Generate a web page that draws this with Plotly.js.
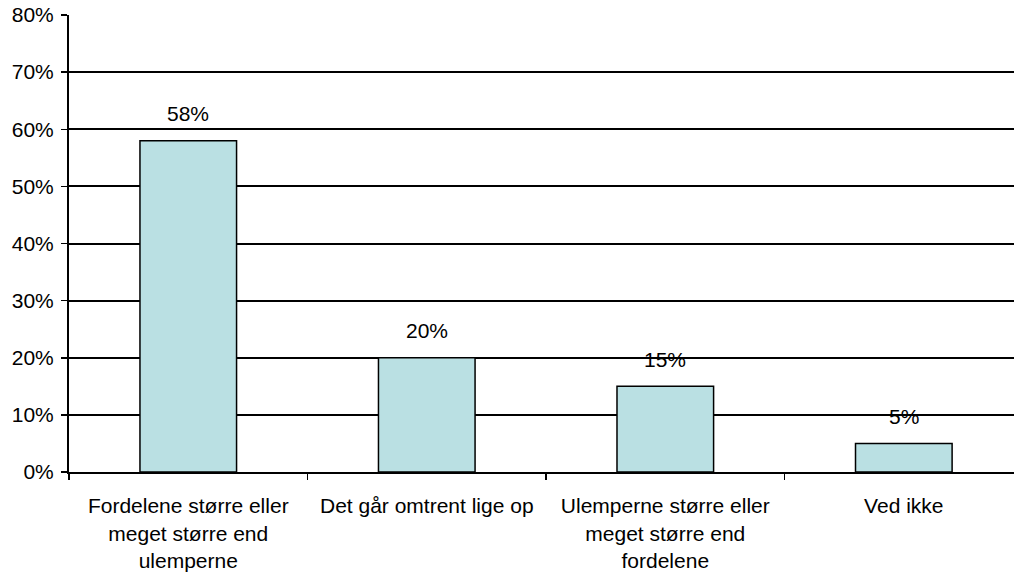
<!DOCTYPE html>
<html>
<head>
<meta charset="utf-8">
<script src="https://cdn.plot.ly/plotly-3.0.1.min.js"></script>
<style>
html,body{margin:0;padding:0;background:#fff;}
#chart{width:1014px;height:573px;}
</style>
</head>
<body>
<div id="chart"></div>
<script>
const categories = [
  "Fordelene større eller<br>meget større end<br>ulemperne",
  "Det går omtrent lige op",
  "Ulemperne større eller<br>meget større end<br>fordelene",
  "Ved ikke"
];
const values = [58, 20, 15, 5];
const valueLabels = ["58%", "20%", "15%", "5%"];
const yTickValues = [0, 10, 20, 30, 40, 50, 60, 70, 80];
const yTickLabels = ["0%", "10%", "20%", "30%", "40%", "50%", "60%", "70%", "80%"];

const FONT = "Liberation Sans, Arial, sans-serif";

const trace = {
  type: "bar",
  x: categories,
  y: values,
  width: 0.405,
  marker: {color: "#bae0e3", line: {color: "#000000", width: 1.5}},
  hoverinfo: "skip"
};

const annotations = categories.map((c, i) => ({
  x: c, y: values[i], xref: "x", yref: "y",
  text: valueLabels[i], showarrow: false,
  yanchor: "middle", yshift: 27,
  font: {family: FONT, size: 21, color: "#000"}
}));

const layout = {
  width: 1014, height: 573,
  margin: {l: 69, r: 0, t: 15, b: 101},
  paper_bgcolor: "#ffffff", plot_bgcolor: "#ffffff",
  font: {family: FONT, size: 21, color: "#000"},
  showlegend: false,
  bargap: 0,
  xaxis: {
    type: "category",
    range: [-0.5, 3.462],
    tickson: "boundaries",
    ticks: "outside", ticklen: 6, tickwidth: 1.5, tickcolor: "#000",
    showline: true, linecolor: "#000", linewidth: 2,
    showgrid: false, zeroline: false,
    ticklabelstandoff: 14,
    tickfont: {family: FONT, size: 21}
  },
  yaxis: {
    range: [0, 80],
    tickvals: yTickValues, ticktext: yTickLabels,
    ticks: "outside", ticklen: 6, tickwidth: 1.5, tickcolor: "#000",
    showline: true, linecolor: "#000", linewidth: 2,
    showgrid: true, gridcolor: "#000", gridwidth: 2,
    zeroline: false,
    ticklabelstandoff: 3,
    tickfont: {family: FONT, size: 21}
  },
  annotations: annotations
};

Plotly.newPlot("chart", [trace], layout, {staticPlot: true, displayModeBar: false});
</script>
</body>
</html>
